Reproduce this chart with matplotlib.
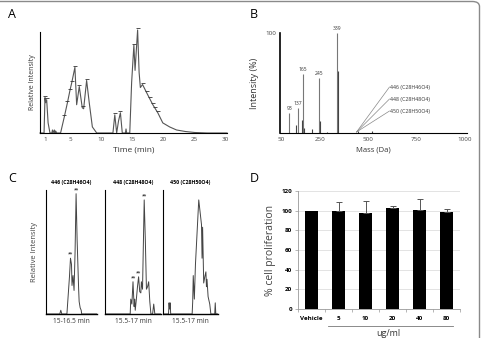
import matplotlib
matplotlib.use("Agg")
import matplotlib.pyplot as plt
from matplotlib.patches import FancyBboxPatch
import numpy as np

plt.rcParams['font.family'] = ['Open Sans', 'DejaVu Sans']

# ---------------- data ----------------
# Panel A: total ion chromatogram (time, relative intensity)
a_time = [0.2, 0.85, 1.0, 1.1, 1.27, 1.5, 1.8, 2.1, 2.2, 2.3, 2.5, 2.6, 2.7, 2.9, 3.5,
          4.1, 4.6, 5.0, 5.3, 5.8, 6.08, 6.5, 6.98, 7.2, 7.68, 8.1, 8.6, 9.3,
          11.9, 12.2, 12.5, 12.8, 13.1, 13.4, 13.9, 14.0, 14.1, 14.6, 14.9, 15.26,
          15.45, 15.86, 16.1, 16.3, 16.65, 17.3, 17.8, 18.3, 19.1, 19.9, 21.0,
          22.1, 23.5, 25.0, 27.0, 30.2]
a_int = [0, 0, 35, 30, 33, 10, 0, 0, 3, 0, 3, 0, 2, 0, 0,
         16, 30, 42, 50, 65, 28, 46, 25, 24, 52, 30, 6, 0,
         0, 18, 0, 12, 20, 0, 0, 4, 0, 0, 50, 87,
         62, 102, 60, 45, 48, 40, 34, 28, 20, 10, 6,
         3, 1.5, 0.5, 0, 0]
a_marks_t = [1.0, 1.27, 4.1, 4.6, 5.0, 5.3, 5.8, 6.5, 7.1, 7.68, 12.2, 13.1,
             15.26, 15.86, 16.65, 17.3, 17.8, 18.3, 18.7, 19.1]
a_marks_i = [35, 33, 16, 30, 42, 50, 65, 46, 25, 52, 18, 20,
             87, 102, 48, 40, 34, 28, 24, 20]
a_ticks = [1, 5, 10, 15, 20, 25, 30]

# Panel B: mass spectrum
b_mass = [93, 137, 165, 245, 339, 130, 160, 170, 210, 250, 290, 342, 450, 520]
b_int = [20, 25, 59, 55, 100, 8, 13, 5, 4, 12, 1.5, 62, 2, 2]
b_labels = ["93", "137", "165", "245", "339"]
b_ions = ["446 (C28H46O4)", "448 (C28H48O4)", "450 (C28H50O4)"]
b_ticks = [50, 250, 500, 750, 1000]

# Panel C: extracted ion chromatograms (fraction of window, relative intensity)
c_titles = ["446 (C28H46O4)", "448 (C28H48O4)", "450 (C28H50O4)"]
c_windows = ["15-16.5 min", "15.5-17 min", "15.5-17 min"]
c1_x = [0, 0.27, 0.29, 0.31, 0.41, 0.46, 0.48, 0.50, 0.51, 0.53, 0.55, 0.57, 0.59,
        0.61, 0.64, 0.65, 0.67, 0.69, 0.70, 1.0]
c1_y = [0, 0, 3, 0, 0, 30, 45, 40, 23, 31, 19, 50, 97, 60, 20, 10, 5, 3, 0, 0]
c2_x = [0, 0.45, 0.46, 0.48, 0.50, 0.52, 0.53, 0.54, 0.56, 0.58, 0.60, 0.62, 0.64,
        0.65, 0.67, 0.70, 0.72, 0.74, 0.76, 0.78, 0.80, 0.82, 0.85, 0.87, 0.89, 1.0]
c2_y = [0, 0, 12, 8, 26, 6, 12, 3, 12, 22, 30, 18, 17, 26, 20, 92, 60, 20, 22, 26,
        10, 0, 0, 8, 0, 0]
c3_x = [0, 0.10, 0.11, 0.12, 0.13, 0.14, 0.53, 0.54, 0.55, 0.57, 0.59, 0.65, 0.68,
        0.70, 0.71, 0.72, 0.74, 0.76, 0.78, 0.79, 0.80, 0.82, 0.85, 0.87, 0.94,
        0.95, 0.96, 0.97, 1.0]
c3_y = [0, 0, 9, 4, 9, 0, 0, 10, 31, 12, 40, 92, 80, 72, 45, 70, 25, 30, 34, 22,
        28, 14, 8, 0, 0, 9, 0, 0, 0]
c_marks = [([0.48, 0.59], [45, 97]), ([0.50, 0.60, 0.70], [26, 30, 92]), ([], [])]

# Panel D: cell proliferation
d_cats = ["Vehicle", "5", "10", "20", "40", "80"]
d_vals = [100, 99.5, 97.5, 102.5, 101, 98.5]
d_err = [0, 9, 12, 2, 11, 3]
d_unit = "ug/ml"

# ---------------- figure ----------------
W, H = 482, 338
fig = plt.figure(figsize=(W / 100, H / 100), dpi=100)
fig.patch.set_facecolor('white')


def ax_px(x0, y0, x1, y1):
    return fig.add_axes([x0 / W, 1 - y1 / H, (x1 - x0) / W, (y1 - y0) / H])


trace = '#555555'

# frame
frame = FancyBboxPatch((-0.05, -0.05), 0.05 + 479.5 / W, 0.05 + 1 - 1.5 / H,
                       boxstyle="round,pad=0,rounding_size=0.015",
                       transform=fig.transFigure, fill=False,
                       edgecolor='#8a8a8a', linewidth=1.0)
fig.patches.append(frame)

# ---- Panel A ----
axA = ax_px(40, 32, 227, 133)
axA.plot(a_time, a_int, color=trace, lw=0.8, clip_on=False)
axA.plot(a_marks_t, [v + 1.5 for v in a_marks_i], linestyle='none', marker='_',
         markersize=3, color='#333333', mew=0.6, clip_on=False)
axA.set_xlim(0.2, 30.2)
axA.set_ylim(0, 100)
axA.set_xticks(a_ticks)
axA.set_xticklabels([str(t) for t in a_ticks], fontsize=4.5, color='#444444')
axA.set_yticks([])
axA.tick_params(axis='x', length=0, pad=3)
for s in ['top', 'right']:
    axA.spines[s].set_visible(False)
for s in ['left', 'bottom']:
    axA.spines[s].set_linewidth(0.8)
axA.set_xlabel("Time (min)", fontsize=6, color='#333333', labelpad=3)
axA.set_ylabel("Relative Intensity", fontsize=5, color='#333333', labelpad=3)
fig.text(8 / W, 1 - 15 / H, "A", fontsize=9, va='center', ha='left')

# ---- Panel B ----
axB = ax_px(280, 33, 467, 133)
colors_b = ['#777777'] * 5 + ['#444444'] * (len(b_mass) - 5)
axB.vlines(b_mass, 0, b_int, colors=colors_b, lw=0.8)
for m, v, lab in zip(b_mass[:5], b_int[:5], b_labels):
    axB.text(m, v + 2, lab, fontsize=3.6, ha='center', va='bottom', color='#333333')
axB.set_xlim(45, 1010)
axB.set_ylim(0, 100)
axB.set_xticks(b_ticks)
axB.set_xticklabels([str(t) for t in b_ticks], fontsize=4.5, color='#444444')
axB.set_yticks([100])
axB.set_yticklabels(["100"], fontsize=4.5, color='#444444')
axB.tick_params(length=0, pad=3)
for s in ['top', 'right']:
    axB.spines[s].set_visible(False)
axB.spines['left'].set_linewidth(1.2)
axB.spines['bottom'].set_linewidth(0.8)
axB.set_xlabel("Mass (Da)", fontsize=5.5, color='#333333', labelpad=3)
axB.set_ylabel("Intensity (%)", fontsize=6.5, color='#333333', labelpad=4)
ion_y = [46, 34, 22]
for lab, yv in zip(b_ions, ion_y):
    axB.plot([440, 610], [1, yv], color='#888888', lw=0.5)
    axB.text(615, yv, lab, fontsize=3.8, va='center', ha='left', color='#333333')
fig.text(250 / W, 1 - 14 / H, "B", fontsize=9, va='center', ha='left')

# ---- Panel C ----
c_bounds = [(46, 97), (105, 161), (163, 218)]
c_data = [(c1_x, c1_y), (c2_x, c2_y), (c3_x, c3_y)]
for i, ((x0, x1), (xs, ys)) in enumerate(zip(c_bounds, c_data)):
    ax = ax_px(x0, 190, x1, 314)
    ax.plot(xs, ys, color='#444444', lw=0.7)
    mx, my = c_marks[i]
    for xm, ym in zip(mx, my):
        ax.text(xm, ym + 1, "**", fontsize=3.5, ha='center', va='bottom')
    ax.set_xlim(0, 1)
    ax.set_ylim(0, 100)
    ax.set_xticks([])
    ax.set_yticks([])
    for s in ['top', 'right']:
        ax.spines[s].set_visible(False)
    ax.spines['left'].set_linewidth(0.8)
    ax.spines['bottom'].set_linewidth(1.0)
    ax.set_title(c_titles[i], fontsize=3.8, fontweight='bold', pad=4)
    ax.set_xlabel(c_windows[i], fontsize=4.8, color='#333333', labelpad=3)
    if i == 0:
        ax.set_ylabel("Relative Intensity", fontsize=5.5, color='#444444', labelpad=6)
fig.text(8 / W, 1 - 178 / H, "C", fontsize=9, va='center', ha='left')

# ---- Panel D ----
axD = ax_px(298, 191, 460, 309)
xpos = np.arange(len(d_cats))
axD.bar(xpos, d_vals, width=0.5, color='black', zorder=3)
axD.errorbar(xpos[1:], d_vals[1:], yerr=[[0] * 5, d_err[1:]], fmt='none',
             ecolor='#555555', elinewidth=0.7, capsize=2, capthick=0.7, zorder=4)
axD.set_xlim(-0.5, len(d_cats) - 0.5)
axD.set_ylim(0, 120)
axD.set_yticks(range(0, 121, 20))
axD.set_yticklabels([str(v) for v in range(0, 121, 20)], fontsize=4.5,
                    fontweight='bold')
axD.set_xticks(xpos)
axD.set_xticklabels(d_cats, fontsize=4.5, fontweight='bold')
axD.set_xticks(np.arange(-0.5, len(d_cats), 1.0), minor=True)
axD.tick_params(axis='x', which='major', length=0, pad=5)
axD.tick_params(axis='x', which='minor', length=2, width=0.5, color='#999999')
axD.tick_params(axis='y', length=2, width=0.5, color='#999999', pad=2)
axD.grid(axis='y', color='#d8d8d8', lw=0.5, zorder=0)
for s in ['top', 'right']:
    axD.spines[s].set_visible(False)
axD.spines['left'].set_color('#999999')
axD.spines['bottom'].set_color('#999999')
axD.spines['left'].set_linewidth(0.6)
axD.spines['bottom'].set_linewidth(0.6)
axD.set_ylabel("% cell proliferation", fontsize=7.5, color='#444444', labelpad=4)
fig.add_artist(plt.Line2D([328 / W, 453 / W], [1 - 326 / H, 1 - 326 / H],
                          color='#777777', lw=0.6, transform=fig.transFigure))
fig.text(388 / W, 1 - 333 / H, d_unit, fontsize=6.5, ha='center', va='center',
         color='#333333')
fig.text(250 / W, 1 - 178 / H, "D", fontsize=9, va='center', ha='left')

fig.savefig("out.png", dpi=100, facecolor='white')
